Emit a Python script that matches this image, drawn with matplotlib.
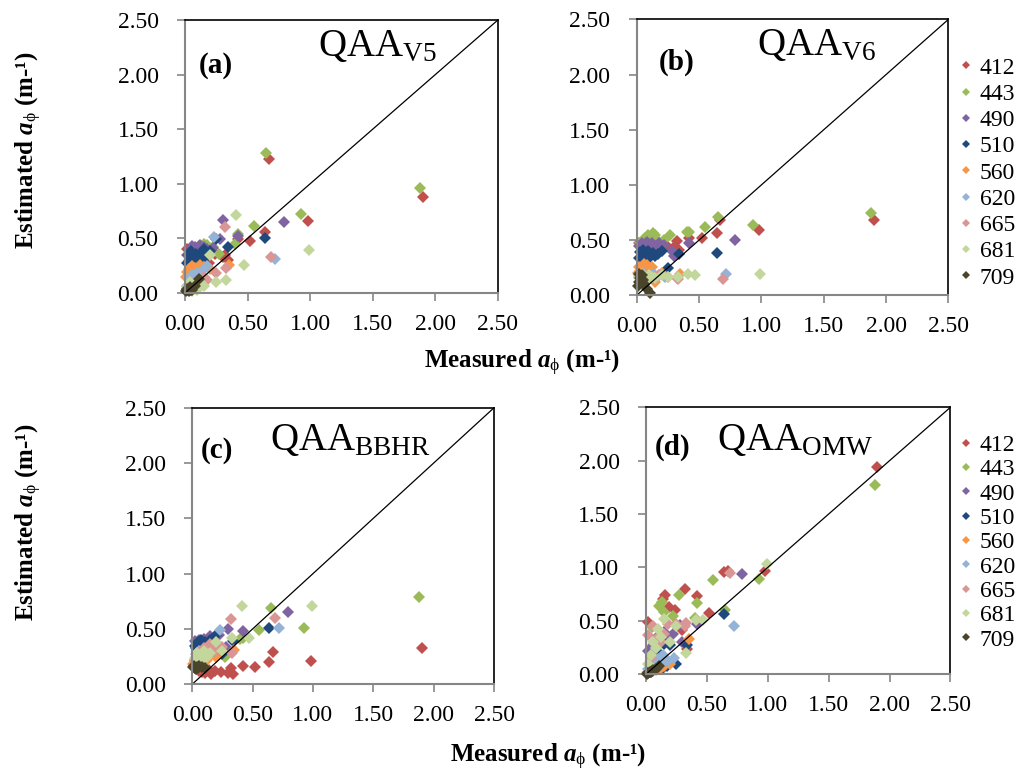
import numpy as np
import matplotlib
matplotlib.use("Agg")
import matplotlib.pyplot as plt
from matplotlib.lines import Line2D

# Fonts: Times-like serif everywhere, custom mathtext so sub/superscripts match
plt.rcParams['font.family'] = 'Liberation Serif'
plt.rcParams['mathtext.fontset'] = 'custom'
plt.rcParams['mathtext.rm'] = 'Liberation Serif'
plt.rcParams['mathtext.it'] = 'Liberation Serif:italic'
plt.rcParams['mathtext.bf'] = 'Liberation Serif:bold'
plt.rcParams['mathtext.bfit'] = 'Liberation Serif:italic:bold'

bands = ['412', '443', '490', '510', '560', '620', '665', '681', '709']
colors = ['#C0504D', '#9BBB59', '#8064A2', '#1F497D', '#F79646',
          '#95B3D7', '#D99694', '#C3D69B', '#4A452A']

ticks = [0.0, 0.5, 1.0, 1.5, 2.0, 2.5]
tick_labels = ['0.00', '0.50', '1.00', '1.50', '2.00', '2.50']

# Measured a_phi per band (same stations in every panel)
meas_412 = [1.90, 0.98, 0.67, 0.64, 0.52, 0.42, 0.34, 0.32, 0.30, 0.24, 0.19, 0.16, 0.14, 0.11, 0.08, 0.06, 0.04, 0.02]
meas_443 = [1.88, 0.93, 0.65, 0.55, 0.42, 0.40, 0.27, 0.22, 0.18, 0.15, 0.13, 0.11, 0.09, 0.07, 0.05, 0.03]
meas_490 = [0.79, 0.42, 0.30, 0.28, 0.22, 0.18, 0.15, 0.12, 0.10, 0.08, 0.06, 0.04, 0.02]
meas_510 = [0.64, 0.34, 0.25, 0.20, 0.17, 0.15, 0.13, 0.11, 0.09, 0.07, 0.06, 0.05, 0.04, 0.03, 0.02]
meas_560 = [0.35, 0.20, 0.15, 0.12, 0.10, 0.08, 0.07, 0.06, 0.05, 0.04, 0.03, 0.02, 0.01]
meas_620 = [0.72, 0.23, 0.18, 0.14, 0.12, 0.10, 0.08, 0.06, 0.05, 0.04, 0.03, 0.02]
meas_665 = [0.69, 0.33, 0.32, 0.25, 0.18, 0.15, 0.12, 0.10, 0.08, 0.06, 0.04, 0.02]
meas_681 = [0.99, 0.47, 0.41, 0.33, 0.25, 0.20, 0.15, 0.12, 0.10, 0.08, 0.06, 0.04, 0.02]
meas_709 = [0.11, 0.08, 0.06, 0.05, 0.04, 0.03, 0.02, 0.015, 0.01]

# Estimated a_phi, QAA_V5
v5_412 = [0.88, 0.66, 1.23, 0.56, 0.48, 0.49, 0.30, 0.35, 0.33, 0.36, 0.27, 0.33, 0.38, 0.30, 0.35, 0.30, 0.37, 0.40]
v5_443 = [0.96, 0.72, 1.28, 0.61, 0.54, 0.45, 0.36, 0.42, 0.44, 0.45, 0.38, 0.43, 0.40, 0.36, 0.33, 0.30]
v5_490 = [0.65, 0.52, 0.67, 0.49, 0.41, 0.40, 0.42, 0.44, 0.40, 0.42, 0.43, 0.38, 0.35]
v5_510 = [0.50, 0.42, 0.49, 0.38, 0.33, 0.40, 0.37, 0.30, 0.36, 0.34, 0.28, 0.38, 0.31, 0.35, 0.27]
v5_560 = [0.26, 0.22, 0.24, 0.26, 0.20, 0.23, 0.18, 0.25, 0.21, 0.17, 0.22, 0.19, 0.15]
v5_620 = [0.31, 0.51, 0.25, 0.20, 0.15, 0.18, 0.12, 0.16, 0.10, 0.08, 0.13, 0.06]
v5_665 = [0.33, 0.23, 0.60, 0.18, 0.12, 0.15, 0.09, 0.11, 0.07, 0.05, 0.08, 0.04]
v5_681 = [0.39, 0.26, 0.71, 0.12, 0.10, 0.35, 0.06, 0.08, 0.03, 0.05, 0.02, 0.10, 0.05]
v5_709 = [0.13, 0.06, 0.03, 0.03, 0.05, 0.02, 0.04, 0.03, 0.02]

# Estimated a_phi, QAA_V6
v6_412 = [0.68, 0.59, 0.68, 0.56, 0.52, 0.52, 0.41, 0.49, 0.44, 0.45, 0.43, 0.44, 0.45, 0.42, 0.44, 0.43, 0.45, 0.47]
v6_443 = [0.75, 0.64, 0.71, 0.62, 0.57, 0.57, 0.55, 0.50, 0.48, 0.55, 0.56, 0.53, 0.55, 0.52, 0.50, 0.47]
v6_490 = [0.50, 0.47, 0.36, 0.40, 0.46, 0.47, 0.45, 0.47, 0.45, 0.48, 0.46, 0.47, 0.45]
v6_510 = [0.38, 0.37, 0.25, 0.40, 0.37, 0.36, 0.38, 0.35, 0.40, 0.38, 0.34, 0.41, 0.36, 0.39, 0.34]
v6_560 = [0.19, 0.20, 0.12, 0.26, 0.24, 0.27, 0.25, 0.28, 0.26, 0.24, 0.22, 0.26, 0.20]
v6_620 = [0.19, 0.17, 0.18, 0.19, 0.17, 0.18, 0.16, 0.19, 0.17, 0.18, 0.16, 0.17]
v6_665 = [0.15, 0.15, 0.16, 0.17, 0.18, 0.16, 0.17, 0.18, 0.15, 0.17, 0.16, 0.18]
v6_681 = [0.19, 0.18, 0.19, 0.17, 0.17, 0.18, 0.16, 0.17, 0.18, 0.16, 0.17, 0.19, 0.16]
v6_709 = [0.02, 0.06, 0.10, 0.14, 0.18, 0.16, 0.12, 0.19, 0.08]

# Estimated a_phi, QAA_BBHR
bbhr_412 = [0.33, 0.21, 0.29, 0.20, 0.16, 0.17, 0.09, 0.15, 0.10, 0.11, 0.12, 0.09, 0.13, 0.10, 0.11, 0.12, 0.14, 0.15]
bbhr_443 = [0.79, 0.51, 0.69, 0.49, 0.42, 0.41, 0.25, 0.35, 0.30, 0.33, 0.28, 0.26, 0.25, 0.24, 0.22, 0.20]
bbhr_490 = [0.65, 0.48, 0.50, 0.34, 0.45, 0.42, 0.44, 0.40, 0.41, 0.38, 0.40, 0.36, 0.39]
bbhr_510 = [0.51, 0.39, 0.27, 0.45, 0.36, 0.40, 0.37, 0.38, 0.33, 0.40, 0.34, 0.38, 0.36, 0.33, 0.35]
bbhr_560 = [0.31, 0.25, 0.28, 0.22, 0.26, 0.21, 0.24, 0.20, 0.22, 0.19, 0.23, 0.21, 0.18]
bbhr_620 = [0.51, 0.49, 0.30, 0.35, 0.27, 0.32, 0.25, 0.30, 0.28, 0.24, 0.27, 0.22]
bbhr_665 = [0.60, 0.28, 0.59, 0.34, 0.30, 0.36, 0.26, 0.33, 0.30, 0.24, 0.28, 0.22]
bbhr_681 = [0.71, 0.42, 0.71, 0.42, 0.30, 0.38, 0.28, 0.25, 0.30, 0.22, 0.26, 0.28, 0.24]
bbhr_709 = [0.15, 0.16, 0.17, 0.15, 0.16, 0.14, 0.15, 0.17, 0.16]

# Estimated a_phi, QAA_OMW
omw_412 = [1.94, 0.97, 0.97, 0.96, 0.57, 0.73, 0.24, 0.80, 0.41, 0.60, 0.63, 0.74, 0.70, 0.30, 0.15, 0.05, 0.02, 0.49]
omw_443 = [1.77, 0.89, 0.60, 0.88, 0.67, 0.53, 0.74, 0.55, 0.30, 0.58, 0.68, 0.64, 0.30, 0.25, 0.44, 0.10]
omw_490 = [0.94, 0.47, 0.30, 0.46, 0.38, 0.34, 0.40, 0.30, 0.36, 0.20, 0.27, 0.12, 0.22]
omw_510 = [0.56, 0.27, 0.10, 0.27, 0.08, 0.28, 0.05, 0.12, 0.22, 0.06, 0.14, 0.03, 0.08, 0.05, 0.02]
omw_560 = [0.33, 0.10, 0.08, 0.06, 0.05, 0.04, 0.05, 0.03, 0.04, 0.02, 0.03, 0.02, 0.01]
omw_620 = [0.45, 0.15, 0.12, 0.18, 0.10, 0.14, 0.08, 0.11, 0.06, 0.09, 0.04, 0.05]
omw_665 = [0.95, 0.48, 0.45, 0.47, 0.47, 0.38, 0.30, 0.35, 0.25, 0.45, 0.15, 0.37]
omw_681 = [1.03, 0.51, 0.51, 0.20, 0.45, 0.30, 0.52, 0.35, 0.42, 0.25, 0.30, 0.18, 0.10]
omw_709 = [0.08, 0.05, 0.04, 0.03, 0.02, 0.02, 0.01, 0.01, 0.00]

measured = [meas_412, meas_443, meas_490, meas_510, meas_560,
            meas_620, meas_665, meas_681, meas_709]
panels = [
    ('(a)', r'QAA$_{\mathrm{V5}}$',
     [v5_412, v5_443, v5_490, v5_510, v5_560, v5_620, v5_665, v5_681, v5_709]),
    ('(b)', r'QAA$_{\mathrm{V6}}$',
     [v6_412, v6_443, v6_490, v6_510, v6_560, v6_620, v6_665, v6_681, v6_709]),
    ('(c)', r'QAA$_{\mathrm{BBHR}}$',
     [bbhr_412, bbhr_443, bbhr_490, bbhr_510, bbhr_560, bbhr_620, bbhr_665, bbhr_681, bbhr_709]),
    ('(d)', r'QAA$_{\mathrm{OMW}}$',
     [omw_412, omw_443, omw_490, omw_510, omw_560, omw_620, omw_665, omw_681, omw_709]),
]

# axes rectangles (figure fraction) and text anchor positions (axes fraction)
rects = [[0.181, 0.622, 0.306, 0.352],
         [0.623, 0.619, 0.305, 0.356],
         [0.188, 0.117, 0.2955, 0.357],
         [0.632, 0.130, 0.298, 0.3445]]
tag_pos = [(0.045, 0.835), (0.07, 0.844), (0.028, 0.845), (0.03, 0.85)]
name_pos = [(0.425, 0.905), (0.385, 0.905), (0.258, 0.88), (0.233, 0.876)]
legend_y = {1: 0.777, 3: 0.30}
legend_spacing = {1: 0.2, 3: 0.12}

fig = plt.figure(figsize=(10.22, 7.75), dpi=100)
axis_grey = '#868686'

for i, (tag, name, estimated) in enumerate(panels):
    ax = fig.add_axes(rects[i])
    for meas, est, color, band in zip(measured, estimated, colors, bands):
        ax.plot(meas, est, linestyle='none', marker='D', markersize=5.8,
                markeredgewidth=0, color=color, label=band, clip_on=False)
    # 1:1 line
    ax.plot([0, 2.5], [0, 2.5], color='black', linewidth=0.9)

    ax.set_xlim(0, 2.5)
    ax.set_ylim(0, 2.5)
    ax.set_xticks(ticks)
    ax.set_yticks(ticks)
    ax.set_xticklabels(tick_labels)
    ax.set_yticklabels(tick_labels)
    ax.tick_params(axis='both', direction='out', length=6, width=1.2,
                   color=axis_grey, labelsize=17)
    ax.tick_params(axis='y', pad=13)
    ax.tick_params(axis='x', pad=9)

    for side in ['left', 'bottom']:
        ax.spines[side].set_color(axis_grey)
        ax.spines[side].set_linewidth(1.5)
    for side in ['top', 'right']:
        ax.spines[side].set_color('black')
        ax.spines[side].set_linewidth(1.2)

    ax.text(tag_pos[i][0], tag_pos[i][1], tag, transform=ax.transAxes,
            fontsize=21, fontweight='bold', va='center', ha='left')
    ax.text(name_pos[i][0], name_pos[i][1], name, transform=ax.transAxes,
            fontsize=28, va='center', ha='left')

    # legends only on the right hand panels
    if i in legend_y:
        handles = [Line2D([], [], linestyle='none', marker='D', markersize=4.2,
                          markeredgewidth=0, color=c) for c in colors]
        fig.legend(handles, bands, loc='center left',
                   bbox_to_anchor=(0.939, legend_y[i]), frameon=False,
                   fontsize=17, handlelength=0.5, handletextpad=0.35,
                   labelspacing=legend_spacing[i], borderaxespad=0, borderpad=0)

ylabel = r'Estimated $\mathbfit{a}_{\mathrm{\phi}}$ (m-¹)'
xlabel = r'Measured $\mathbfit{a}_{\mathrm{\phi}}$ (m-¹)'
fig.text(29 / 1022, 1 - 150 / 775, ylabel, rotation=90, fontsize=18,
         fontweight='bold', ha='center', va='center')
fig.text(29 / 1022, 1 - 522 / 775, ylabel, rotation=90, fontsize=18,
         fontweight='bold', ha='center', va='center')
fig.text(522 / 1022, 1 - 363 / 775, xlabel, fontsize=18,
         fontweight='bold', ha='center', va='center')
fig.text(548 / 1022, 1 - 757 / 775, xlabel, fontsize=18,
         fontweight='bold', ha='center', va='center')

fig.savefig('out.png', dpi=100)
